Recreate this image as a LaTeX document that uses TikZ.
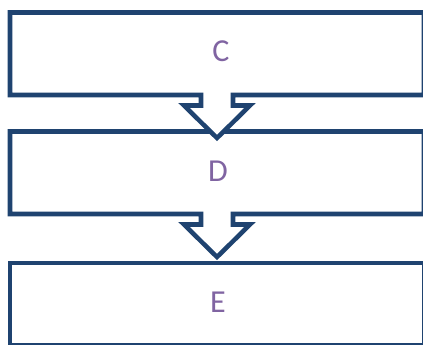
\documentclass[tikz,border=0pt]{standalone}
\usepackage{fontspec}
\setmainfont{Carlito}
\definecolor{boxblue}{RGB}{31,67,112}
\definecolor{txtpurple}{RGB}{128,100,162}
\begin{document}
\begin{tikzpicture}[x=0.75pt,y=-0.75pt,
  outline/.style={draw=boxblue,line width=3.4pt,fill=white,line join=miter},
  lbl/.style={text=txtpurple,font=\fontsize{24}{28}\selectfont,inner sep=0pt}]
\useasboundingbox (0,0) rectangle (423,344);
\clip (0,0) rectangle (423,344);
% box E
\draw[outline] (10,263) rectangle (424,345.5);
% box D with arrow to E
\draw[outline] (10,131.5) -- (424,131.5) -- (424,214) -- (233,214) -- (233,224.5) -- (250,224.5)
  -- (217,257) -- (184,224.5) -- (201,224.5) -- (201,214) -- (10,214) -- cycle;
% box C with arrow to D
\draw[outline] (10,12.5) -- (424,12.5) -- (424,95) -- (233,95) -- (233,105.5) -- (250,105.5)
  -- (217,138) -- (184,105.5) -- (201,105.5) -- (201,95) -- (10,95) -- cycle;
\node[lbl] (c) at (221,51) {C};
\node[lbl] (d) at (218,171) {D};
\node[lbl] (e) at (218,302) {E};
\end{tikzpicture}
\end{document}
